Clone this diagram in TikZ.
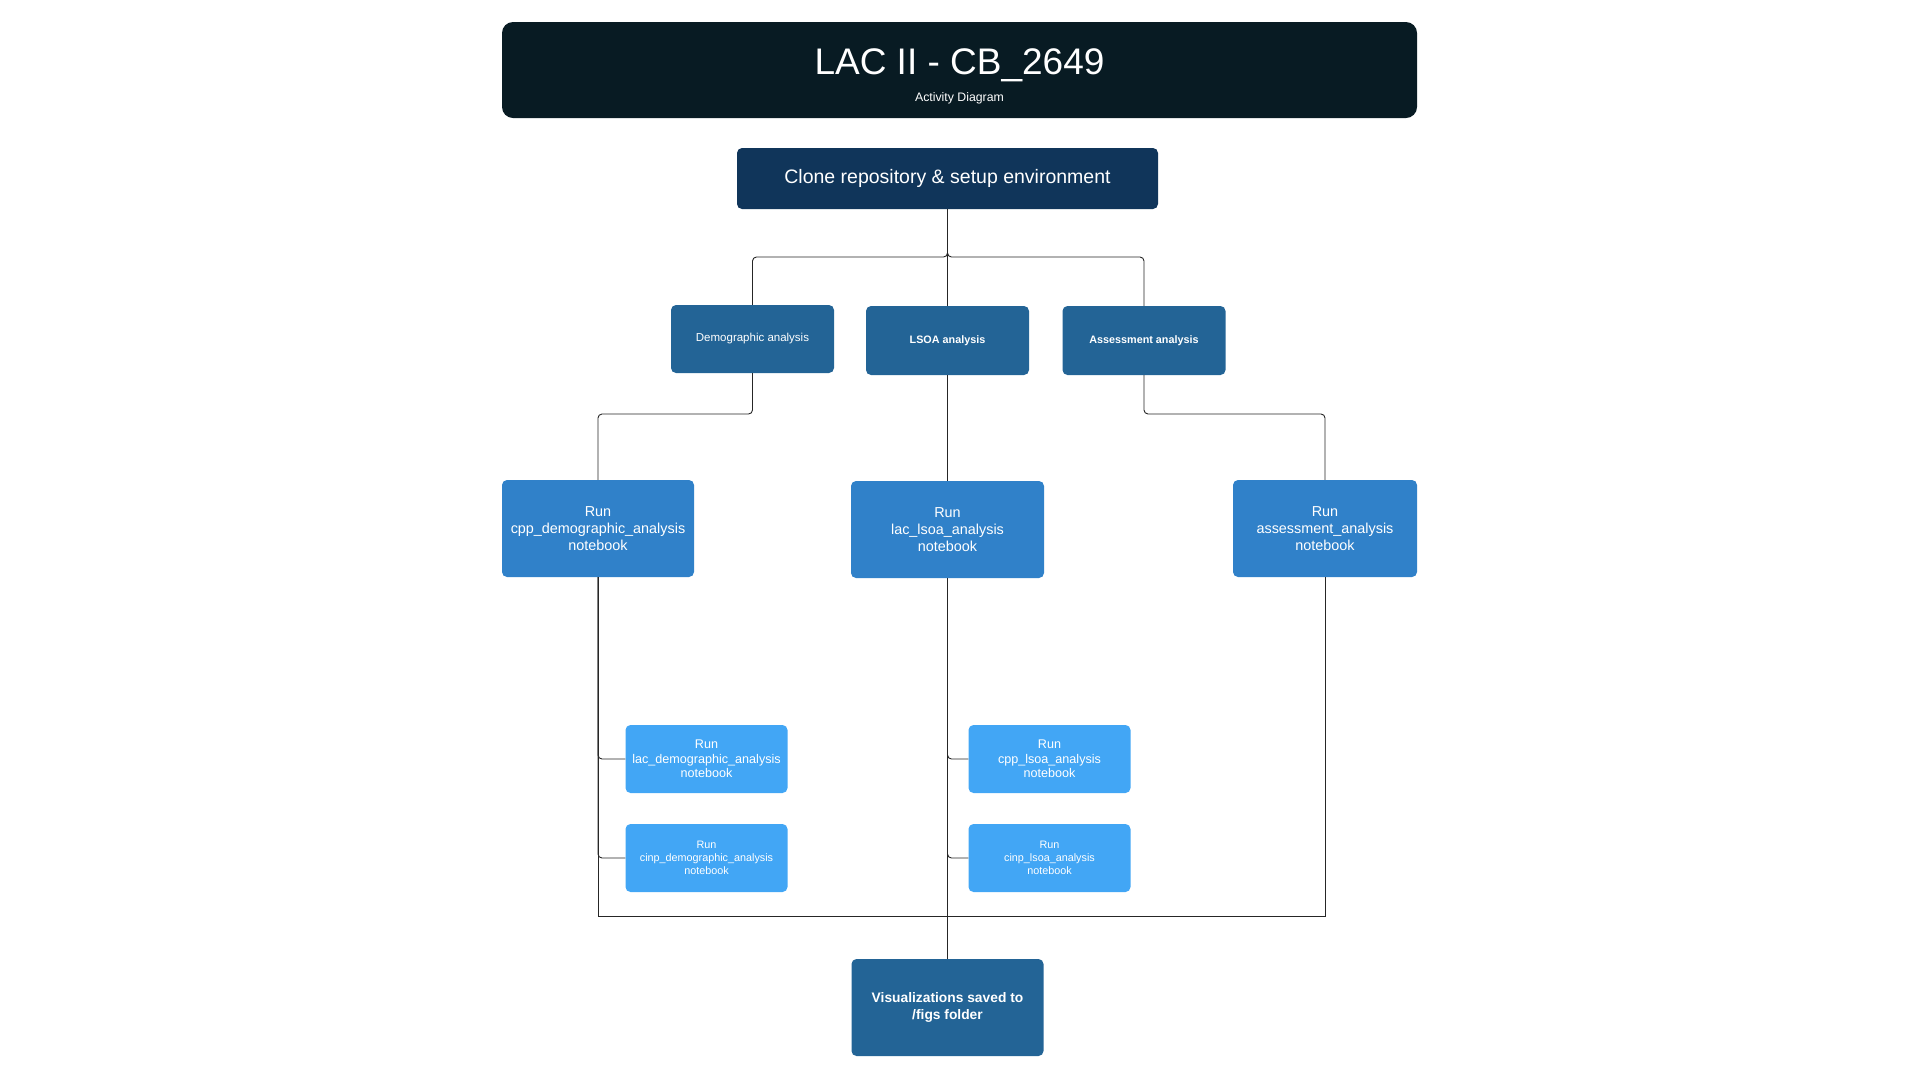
\documentclass[tikz,border=0pt]{standalone}
\usepackage{fontspec}
\setmainfont{Liberation Sans}
\usetikzlibrary{calc}

\definecolor{headbg}{HTML}{081B23}
\definecolor{setupbg}{HTML}{10355A}
\definecolor{stagebg}{HTML}{236496}
\definecolor{mainbg}{HTML}{3081C9}
\definecolor{subbg}{HTML}{42A6F5}

\begin{document}
\begin{tikzpicture}[x = 1pt, y = -1pt,
    box/.style = {rounded corners = 5pt, inner sep = 0pt, align = center, text = white},
    wire/.style = {black!85, line width = 0.9pt, rounded corners = 4pt}]

    \useasboundingbox (0, 0) rectangle (1920, 1080);

    %%%%%%%%%% header %%%%%%%%%%%%%%%%%%%
    \node [box, fill = headbg, rounded corners = 11pt, minimum width = 915pt, minimum height = 96pt] (head) at (959.5, 70) {};
    \node [text = white, font = \fontsize{37}{44}\selectfont, anchor = base] (headtitle) at (959.5, 74) {LAC II - CB\_2649};
    \node [text = white, font = \fontsize{12.3}{15}\selectfont, anchor = base] (headsub) at (959.5, 101) {Activity Diagram};

    %%%%%%%%%% setup + stages %%%%%%%%%%%%%%%%%%%
    \node [box, fill = setupbg, minimum width = 421pt, minimum height = 61pt, font = \fontsize{19.5}{23}\selectfont] (clone) at (947.5, 178.5) {Clone repository \& setup environment};

    \node [box, fill = stagebg, minimum width = 163pt, minimum height = 68pt, font = \fontsize{11.5}{14}\selectfont] (demo) at (752.5, 339) {Demographic analysis};
    \node [box, fill = stagebg, minimum width = 163pt, minimum height = 69pt, font = \bfseries\fontsize{10.8}{13}\selectfont] (lsoa) at (947.5, 340.5) {LSOA analysis};
    \node [box, fill = stagebg, minimum width = 163pt, minimum height = 69pt, font = \bfseries\fontsize{10.8}{13}\selectfont] (assess) at (1144, 340.5) {Assessment analysis};

    \coordinate (splitT) at (947.5, 257);
    \draw [wire] (clone)  --  (splitT) -| (demo);
    \draw [wire] (clone)  --  (splitT) -| (assess);
    \draw [wire] (clone)  --  (lsoa);

    %%%%%%%%%% notebooks %%%%%%%%%%%%%%%%%%%
    \node [box, fill = mainbg, minimum width = 192pt, minimum height = 97pt, font = \fontsize{14.4}{17}\selectfont] (cppdemo) at (598, 528.5) {Run\\cpp\_demographic\_analysis\\notebook};
    \node [box, fill = mainbg, minimum width = 193pt, minimum height = 97pt, font = \fontsize{14.4}{17}\selectfont] (laclsoa) at (947.5, 529.5) {Run\\lac\_lsoa\_analysis\\notebook};
    \node [box, fill = mainbg, minimum width = 184pt, minimum height = 97pt, font = \fontsize{14.4}{17}\selectfont] (assessnb) at (1325, 528.5) {Run\\assessment\_analysis\\notebook};

    \coordinate (splitL) at (752.5, 414);
    \coordinate (splitR) at (1144, 414);
    \draw [wire] (demo)  --  (splitL) -| (cppdemo);
    \draw [wire] (assess)  --  (splitR) -| (assessnb);
    \draw [wire] (lsoa)  --  (laclsoa);

    \foreach \name/\x/\y/\fs/\bs/\nb in {lacdemo/706.5/759/12.6/14.7/lac\_demographic\_analysis, cinpdemo/706.5/858/10.8/12.9/cinp\_demographic\_analysis, cpplsoa/1049.5/759/12.6/14.7/cpp\_lsoa\_analysis, cinplsoa/1049.5/858/10.8/12.9/cinp\_lsoa\_analysis} {
        \node [box, fill = subbg, minimum width = 162pt, minimum height = 68pt, font = \fontsize{\fs}{\bs}\selectfont] (\name) at (\x, \y) {Run\\\nb\\notebook};
        }

    \foreach \sub/\main in {lacdemo/cppdemo, cinpdemo/cppdemo, cpplsoa/laclsoa, cinplsoa/laclsoa} {
        \draw [wire] (\main) |- (\sub);
        }

    %%%%%%%%%% output %%%%%%%%%%%%%%%%%%%
    \node [box, fill = stagebg, minimum width = 192pt, minimum height = 97pt, font = \bfseries\fontsize{13.8}{17}\selectfont] (vis) at (947.5, 1007.5) {Visualizations saved to\\/figs folder};

    \coordinate (busB) at (947.5, 916);
    \draw [wire, sharp corners] (cppdemo) |- (busB) -| (assessnb);
    \draw [wire] (laclsoa)  --  (vis);

\end{tikzpicture}
\end{document}
